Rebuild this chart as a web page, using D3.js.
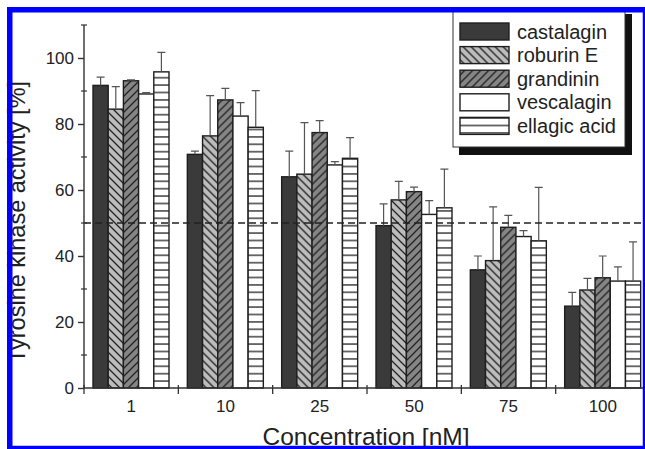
<!DOCTYPE html>
<html>
<head>
<meta charset="utf-8">
<script src="https://cdn.jsdelivr.net/npm/d3@7"></script>
<style>
  body { margin: 0; background: #fff; }
  svg { display: block; font-family: "Liberation Sans", Arial, sans-serif; }
  text { fill: #222; }
</style>
</head>
<body>
<svg id="chart" width="645" height="449"></svg>
<script>
// concentrations on the x axis
var concentrations = ['1', '10', '25', '50', '75', '100'];
var compounds = ['castalagin', 'roburin E', 'grandinin', 'vescalagin', 'ellagic acid'];

// mean activity [%] per compound, one value per concentration
var castalagin  = [91.7, 70.8, 64.0, 49.2, 35.8, 24.8];
var roburinE    = [84.5, 76.4, 64.8, 57.0, 38.6, 29.7];
var grandinin   = [93.1, 87.3, 77.4, 59.5, 48.7, 33.4];
var vescalagin  = [89.1, 82.4, 67.6, 52.6, 45.9, 32.4];
var ellagicAcid = [95.8, 79.0, 69.6, 54.6, 44.6, 32.4];

// upper error (sd) per compound
var castalaginErr  = [2.5, 1.0, 7.8, 6.6, 4.2, 4.2];
var roburinEErr    = [6.8, 12.2, 15.6, 5.6, 16.3, 3.5];
var grandininErr   = [0.3, 3.5, 3.6, 1.4, 3.6, 6.6];
var vescalaginErr  = [0.4, 4.1, 1.0, 4.2, 1.8, 4.3];
var ellagicAcidErr = [5.9, 11.1, 6.3, 11.7, 16.2, 11.9];

var yMajorTicks = [0, 20, 40, 60, 80, 100];
var yMinorTicks = [10, 30, 50, 70, 90, 110];
var threshold = 50;

var seriesValues = [castalagin, roburinE, grandinin, vescalagin, ellagicAcid];
var seriesErrors = [castalaginErr, roburinEErr, grandininErr, vescalaginErr, ellagicAcidErr];

var svg = d3.select('#chart');
var defs = svg.append('defs');

// hatch patterns, in user space so neighbouring bars line up into chevrons
function hatch(id, bg, d, w, h) {
  var p = defs.append('pattern')
    .attr('id', id)
    .attr('patternUnits', 'userSpaceOnUse')
    .attr('width', w).attr('height', h);
  p.append('rect').attr('width', w).attr('height', h).attr('fill', bg);
  p.append('path').attr('d', d)
    .attr('stroke', '#222').attr('stroke-width', 1.3).attr('fill', 'none');
}
hatch('hatch-back', '#bcbcbc', 'M0,0 L8,8 M-4,4 L4,12 M4,-4 L12,4', 8, 8);
hatch('hatch-fwd', '#858585', 'M0,8 L8,0 M-4,4 L4,-4 M4,12 L12,4', 8, 8);
hatch('hatch-horiz', '#fff', 'M0,3.7 L10,3.7', 10, 7.4);

var fills = ['#3a3a3a', 'url(#hatch-back)', 'url(#hatch-fwd)', '#fff', 'url(#hatch-horiz)'];

var x0 = d3.scaleBand().domain(concentrations).range([84, 650]);
var x1 = d3.scaleBand().domain(compounds).range([9, 85]);
var y = d3.scaleLinear().domain([0, 110]).range([388, 25]);

// bars
var groups = svg.append('g').selectAll('g')
  .data(concentrations)
  .join('g')
  .attr('transform', function(c) { return 'translate(' + x0(c) + ',0)'; });

compounds.forEach(function(name, si) {
  groups.append('rect')
    .attr('x', x1(name))
    .attr('y', function(c, i) { return y(seriesValues[si][i]); })
    .attr('width', x1.bandwidth())
    .attr('height', function(c, i) { return y(0) - y(seriesValues[si][i]); })
    .attr('fill', fills[si])
    .attr('stroke', '#1e1e1e')
    .attr('stroke-width', 1.4);
});

// one-sided error bars
compounds.forEach(function(name, si) {
  var cx = x1(name) + x1.bandwidth() / 2;
  groups.append('path')
    .attr('d', function(c, i) {
      var top = y(seriesValues[si][i] + seriesErrors[si][i]);
      var base = y(seriesValues[si][i]);
      return 'M' + cx + ',' + base + 'V' + top + 'M' + (cx - 4) + ',' + top + 'H' + (cx + 4);
    })
    .attr('stroke', '#555')
    .attr('stroke-width', 1.2)
    .attr('fill', 'none');
});

// 50 % line
svg.append('line')
  .attr('x1', x0.range()[0]).attr('x2', 645)
  .attr('y1', y(threshold)).attr('y2', y(threshold))
  .attr('stroke', '#222').attr('stroke-width', 1.5)
  .attr('stroke-dasharray', '7,4');

// y axis
var yAxis = svg.append('g')
  .attr('transform', 'translate(' + x0.range()[0] + ',0)')
  .call(d3.axisLeft(y).tickValues(yMajorTicks).tickSize(6).tickPadding(4));
yAxis.select('.domain').attr('d', 'M0,' + y(0) + 'V' + y(110));
yAxis.selectAll('line, path').attr('stroke', '#333').attr('stroke-width', 1.4);
yAxis.selectAll('text').attr('font-size', 17).attr('fill', '#222')
  .attr('font-family', '"Liberation Sans", Arial, sans-serif');

svg.append('g').selectAll('line')
  .data(yMinorTicks)
  .join('line')
  .attr('x1', x0.range()[0] - 3).attr('x2', x0.range()[0] + 3)
  .attr('y1', function(d) { return y(d); }).attr('y2', function(d) { return y(d); })
  .attr('stroke', '#333').attr('stroke-width', 1.2);

// x axis, ticks sit on the group boundaries
var xAxis = svg.append('g').attr('transform', 'translate(0,' + y(0) + ')');
xAxis.append('line')
  .attr('x1', x0.range()[0]).attr('x2', 645)
  .attr('stroke', '#333').attr('stroke-width', 1.4);
xAxis.selectAll('line.tick')
  .data(concentrations)
  .join('line')
  .attr('class', 'tick')
  .attr('x1', function(c) { return x0(c); }).attr('x2', function(c) { return x0(c); })
  .attr('y1', -3).attr('y2', 6)
  .attr('stroke', '#333').attr('stroke-width', 1.3);
xAxis.selectAll('text')
  .data(concentrations)
  .join('text')
  .attr('x', function(c) { return x0(c) + x0.bandwidth() / 2; })
  .attr('y', 24)
  .attr('text-anchor', 'middle')
  .attr('font-size', 17)
  .text(function(c) { return c; });

// axis titles
svg.append('text')
  .attr('transform', 'translate(25,222) rotate(-90)')
  .attr('text-anchor', 'middle')
  .attr('font-size', 23.5)
  .text('Tyrosine kinase activity [%]');

svg.append('text')
  .attr('x', 366).attr('y', 445)
  .attr('text-anchor', 'middle')
  .attr('font-size', 24.5)
  .text('Concentration [nM]');

// legend with drop shadow
var legend = svg.append('g');
legend.append('rect')
  .attr('x', 459).attr('y', 14).attr('width', 173).attr('height', 141)
  .attr('fill', '#111');
legend.append('rect')
  .attr('x', 453).attr('y', 8).attr('width', 172).attr('height', 139)
  .attr('fill', '#fff').attr('stroke', '#333').attr('stroke-width', 1);

var legendY = d3.scaleBand().domain(compounds).range([20, 138]);
var items = legend.selectAll('g.item')
  .data(compounds)
  .join('g')
  .attr('class', 'item')
  .attr('transform', function(d) { return 'translate(460,' + legendY(d) + ')'; });
items.append('rect')
  .attr('y', 3).attr('width', 49).attr('height', 17)
  .attr('fill', function(d, i) { return fills[i]; })
  .attr('stroke', '#1e1e1e').attr('stroke-width', 1.4);
items.append('text')
  .attr('x', 57).attr('y', 18.5)
  .attr('font-size', 20)
  .text(function(d) { return d; });

// blue frame around the figure
svg.append('rect')
  .attr('x', 9.75).attr('y', 9.75)
  .attr('width', 635.75).attr('height', 438.75)
  .attr('fill', 'none')
  .attr('stroke', '#0000ff')
  .attr('stroke-width', 5.5);
</script>
</body>
</html>
